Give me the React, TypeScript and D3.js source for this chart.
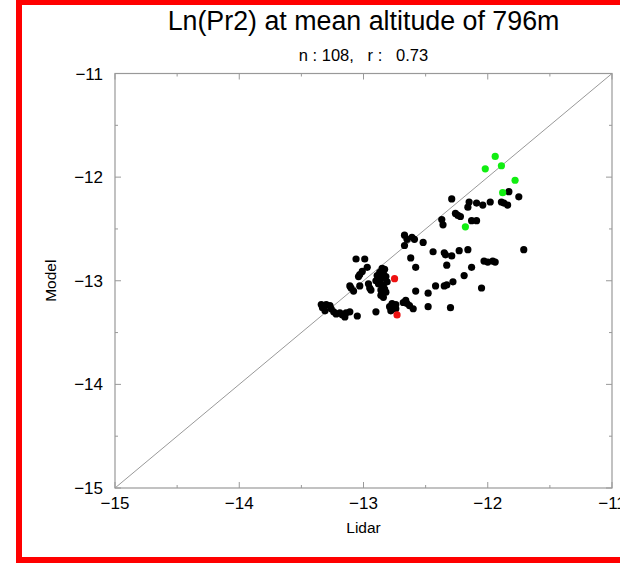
import React, { useEffect } from "react";
import * as d3 from "d3";

const title = "Ln(Pr2) at mean altitude of 796m";
const subtitle = "n : 108,   r :   0.73";
const xLabel = "Lidar";
const yLabel = "Model";
const majorTicks = [-15, -14, -13, -12, -11];
const minorTicks = [-14.5, -13.5, -12.5, -11.5];

// black points: [lidar, model]
const blackPoints: [number, number][] = [
  [-11.83, -12.14], [-11.75, -12.19], [-12.29, -12.21], [-12.15, -12.24], [-12.16, -12.29],
  [-12.09, -12.25], [-12.04, -12.27], [-11.98, -12.24], [-11.89, -12.24], [-11.87, -12.25],
  [-11.84, -12.27], [-12.26, -12.35], [-12.24, -12.37], [-12.22, -12.38], [-12.37, -12.41],
  [-12.36, -12.46], [-12.13, -12.42], [-12.09, -12.42],
  [-12.67, -12.56], [-12.65, -12.6], [-12.61, -12.58], [-12.59, -12.6], [-12.52, -12.63],
  [-12.67, -12.66], [-12.44, -12.72], [-12.35, -12.73], [-12.34, -12.75], [-12.29, -12.76],
  [-12.23, -12.71], [-12.16, -12.7], [-11.71, -12.7], [-12.62, -12.78], [-12.58, -12.87],
  [-12.33, -12.85], [-12.13, -12.87], [-12.03, -12.81], [-12.0, -12.82], [-11.96, -12.81],
  [-11.94, -12.82], [-12.19, -12.95], [-12.28, -13.01], [-12.35, -13.05], [-12.33, -13.04],
  [-12.42, -13.05], [-12.48, -13.12], [-12.58, -13.1], [-12.05, -13.07], [-12.48, -13.25],
  [-12.3, -13.26],
  [-13.06, -12.79], [-12.99, -12.79], [-12.97, -12.87], [-13.01, -12.91], [-13.03, -12.94],
  [-13.04, -12.96], [-13.11, -13.05], [-13.1, -13.07], [-13.08, -13.1], [-13.03, -13.05],
  [-12.96, -13.03], [-12.95, -13.07], [-12.94, -13.09],
  [-12.85, -12.88], [-12.83, -12.89], [-12.87, -12.92], [-12.84, -12.93], [-12.89, -12.95],
  [-12.82, -12.96], [-12.86, -12.98], [-12.9, -13.0], [-12.81, -13.01], [-12.88, -13.03],
  [-12.84, -13.04], [-12.83, -13.08], [-12.86, -13.09], [-12.82, -13.11], [-12.86, -13.14],
  [-12.84, -13.16],
  [-12.77, -13.22], [-12.79, -13.25], [-12.74, -13.23], [-12.68, -13.21], [-12.66, -13.19],
  [-12.65, -13.22], [-12.63, -13.24], [-12.6, -13.27], [-12.74, -13.27], [-12.78, -13.29],
  [-12.9, -13.3], [-13.05, -13.34],
  [-13.34, -13.23], [-13.33, -13.26], [-13.3, -13.23], [-13.31, -13.29], [-13.27, -13.24],
  [-13.26, -13.27], [-13.24, -13.3], [-13.22, -13.32], [-13.19, -13.31], [-13.17, -13.33],
  [-13.15, -13.35], [-13.14, -13.31], [-13.11, -13.3],
];

const greenPoints: [number, number][] = [
  [-11.94, -11.8], [-12.02, -11.92], [-11.89, -11.89], [-11.78, -12.03], [-11.88, -12.15],
  [-12.18, -12.48],
];

const redPoints: [number, number][] = [
  [-12.75, -12.98], [-12.73, -13.33],
];

const W = 620;
const H = 564;
const left = 115;
const right = 612;
const top = 73.5;
const bottom = 488;
const fontFam = "'Liberation Sans', Arial, Helvetica, sans-serif";

export default function App() {
  useEffect(() => {
    document.body.style.margin = "0";
  }, []);

  const x = d3.scaleLinear().domain([-15, -11]).range([left, right]);
  const y = d3.scaleLinear().domain([-15, -11]).range([bottom, top]);
  const fmt = (v: number) => (v < 0 ? "\u2212" + Math.abs(v) : String(v));
  const tickColor = "#999";

  return (
    <svg width={W} height={H} style={{ display: "block" }} fontFamily={fontFam}>
      <rect x={0} y={0} width={W} height={H} fill="#fff" />

      <text x={(left + right) / 2} y={30} textAnchor="middle" fontSize={26.8} fill="#000">
        {title}
      </text>
      {/* red frame */}
      <rect x={19} y={2} width={W + 20} height={558} fill="none" stroke="#ff0000" strokeWidth={6} />

      <text x={(left + right) / 2} y={61} textAnchor="middle" fontSize={16.5} fill="#000" xmlSpace="preserve" style={{ whiteSpace: "pre" }}>
        {subtitle}
      </text>

      {/* diagonal */}
      <line x1={x(-15)} y1={y(-15)} x2={x(-11)} y2={y(-11)} stroke="#999" strokeWidth={1} />

      {/* frame */}
      <rect x={left} y={top} width={right - left} height={bottom - top} fill="none" stroke={tickColor} strokeWidth={1.2} />

      {/* ticks */}
      {majorTicks.map((t) => (
        <g key={"M" + t}>
          <line x1={x(t)} x2={x(t)} y1={bottom} y2={bottom - 6} stroke={tickColor} />
          <line x1={x(t)} x2={x(t)} y1={top} y2={top + 6} stroke={tickColor} />
          <line y1={y(t)} y2={y(t)} x1={left} x2={left + 6} stroke={tickColor} />
          <line y1={y(t)} y2={y(t)} x1={right} x2={right - 6} stroke={tickColor} />
        </g>
      ))}
      {minorTicks.map((t) => (
        <g key={"m" + t}>
          <line x1={x(t)} x2={x(t)} y1={bottom} y2={bottom - 3} stroke={tickColor} />
          <line x1={x(t)} x2={x(t)} y1={top} y2={top + 3} stroke={tickColor} />
          <line y1={y(t)} y2={y(t)} x1={left} x2={left + 3} stroke={tickColor} />
          <line y1={y(t)} y2={y(t)} x1={right} x2={right - 3} stroke={tickColor} />
        </g>
      ))}

      {/* tick labels */}
      {majorTicks.map((t) => (
        <text key={"xl" + t} x={x(t)} y={509} textAnchor="middle" fontSize={17} fill="#000">
          {fmt(t)}
        </text>
      ))}
      {majorTicks.map((t) => (
        <text key={"yl" + t} x={103} y={y(t) + 6} textAnchor="end" fontSize={17} fill="#000">
          {fmt(t)}
        </text>
      ))}

      <text x={(left + right) / 2} y={533} textAnchor="middle" fontSize={15.5} fill="#000">
        {xLabel}
      </text>
      <text
        transform={`translate(56, ${(top + bottom) / 2}) rotate(-90)`}
        textAnchor="middle"
        fontSize={15.5}
        fill="#000"
      >
        {yLabel}
      </text>

      {/* points */}
      {blackPoints.map((p, i) => (
        <circle key={"b" + i} cx={x(p[0])} cy={y(p[1])} r={3.6} fill="#000" />
      ))}
      {greenPoints.map((p, i) => (
        <circle key={"g" + i} cx={x(p[0])} cy={y(p[1])} r={3.6} fill="#11ee11" />
      ))}
      {redPoints.map((p, i) => (
        <circle key={"r" + i} cx={x(p[0])} cy={y(p[1])} r={3.6} fill="#ee1111" />
      ))}
    </svg>
  );
}
